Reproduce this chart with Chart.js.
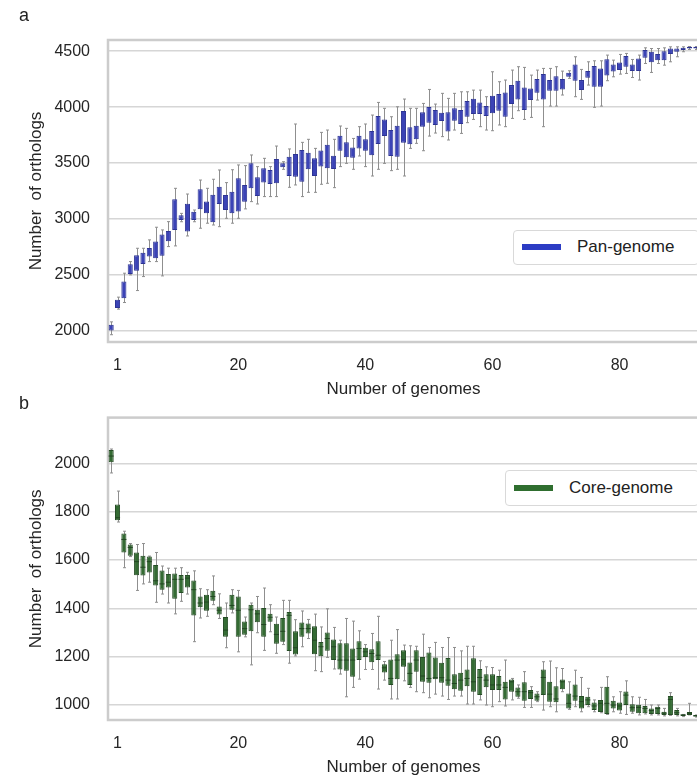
<!DOCTYPE html>
<html>
<head>
<meta charset="utf-8">
<script src="https://cdn.jsdelivr.net/npm/chart.js@4.4.1/dist/chart.umd.min.js"></script>
<style>
  html, body { margin: 0; padding: 0; background: #fff; overflow: hidden; }
  body { width: 697px; height: 776px; position: relative; font-family: "Liberation Sans", Arial, sans-serif; }
  canvas { position: absolute; left: 0; }
  #chartA { top: 0; }
  #chartB { top: 390px; }
  .panel { position: absolute; left: 19px; font-size: 18px; color: #222; }
  .legend { position: absolute; background: #fff; border: 1.5px solid #d9d9d9; border-radius: 4px; box-sizing: border-box; }
  .legend .patch { position: absolute; left: 8px; width: 39px; height: 6px; }
  .legend .txt { position: absolute; left: 63px; font-size: 17px; color: #222; white-space: nowrap; }
</style>
</head>
<body>
<canvas id="chartA" width="700" height="402"></canvas>
<canvas id="chartB" width="700" height="390"></canvas>
<div class="panel" style="top:5px">a</div>
<div class="panel" style="top:393px">b</div>
<div class="legend" style="left:513px; top:230px; width:186px; height:35px;">
  <div class="patch" style="top:13px; background:#2c3cc4;"></div>
  <div class="txt" style="top:6px;">Pan-genome</div>
</div>
<div class="legend" style="left:505px; top:470px; width:194px; height:36px;">
  <div class="patch" style="top:14px; background:#2f6e2f;"></div>
  <div class="txt" style="top:7px;">Core-genome</div>
</div>
<script>
// box index along the x axis (labels printed at 1, 20, 40, 60, 80)
const genomes = Array.from({ length: 93 }, (_, i) => i);
const xTicks = [1, 20, 40, 60, 80];
const panYTicks = [2000, 2500, 3000, 3500, 4000, 4500];
const coreYTicks = [1000, 1200, 1400, 1600, 1800, 2000];

// pan-genome boxes
const panLow = [1965,2194,2253,2500,2360,2485,2619,2619,2491,2753,
  2759,2975,2848,2975,2917,2962,2946,2931,3006,2962,
  3006,3090,3155,3134,3200,3200,3200,3444,3283,3304,
  3200,3238,3238,3310,3319,3280,3468,3497,3444,3563,
  3468,3384,3444,3497,3432,3444,3384,3631,3676,3610,
  3741,3768,3736,3706,3795,3765,3861,3890,3825,3795,
  3789,3840,3825,3899,3968,3890,3908,4063,3825,4009,
  4009,4108,4257,4093,4069,4197,3998,4009,4236,4271,
  4295,4301,4265,4242,4390,4310,4390,4375,4405,4450,
  4495,4515,4515];
const panQ1 = [2003,2203,2292,2509,2536,2598,2664,2649,2670,2801,
  2902,2991,2887,2991,3087,3052,2970,3134,3080,3051,
  3066,3155,3274,3206,3325,3313,3319,3462,3384,3378,
  3333,3444,3384,3468,3453,3447,3610,3551,3548,3631,
  3610,3569,3670,3741,3563,3557,3682,3667,3712,3825,
  3861,3840,3875,3783,3878,3849,3914,3938,3938,3920,
  3944,3968,3914,4027,4069,3974,4063,4128,4069,4146,
  4146,4158,4271,4236,4152,4262,4182,4182,4283,4319,
  4331,4361,4322,4322,4441,4402,4420,4420,4474,4495,
  4510,4524,4524];
const panQ3 = [2055,2277,2440,2596,2676,2699,2741,2798,2860,2893,
  3176,3033,3137,3065,3265,3156,3217,3289,3214,3244,
  3363,3304,3497,3372,3453,3438,3536,3497,3557,3581,
  3616,3593,3542,3611,3664,3566,3744,3685,3640,3744,
  3712,3786,3920,3890,3795,3834,3965,3819,3834,3953,
  4000,3974,3950,3953,3989,3974,4054,4075,4042,4009,
  4102,4117,4131,4197,4236,4176,4167,4251,4295,4242,
  4277,4251,4307,4381,4242,4322,4367,4346,4429,4381,
  4399,4456,4381,4435,4510,4495,4474,4500,4524,4524,
  4530,4539,4539];
const panHigh = [2080,2301,2515,2619,2738,2738,2813,2926,2902,2976,
  3274,3050,3223,3080,3348,3274,3355,3438,3325,3440,
  3483,3477,3572,3468,3542,3468,3652,3512,3626,3849,
  3685,3712,3631,3774,3795,3712,3831,3810,3720,3825,
  3849,3929,4042,3989,3914,4003,4072,3989,3989,4033,
  4158,4027,4123,4078,4123,4137,4137,4152,4152,4093,
  4316,4227,4242,4331,4361,4355,4286,4331,4346,4346,
  4361,4322,4325,4450,4337,4405,4414,4414,4465,4420,
  4471,4480,4426,4465,4530,4524,4524,4530,4539,4539,
  4539,4542,4542];

// core-genome boxes
const coreLow = [1960,1757,1568,1614,1474,1501,1508,1425,1459,1422,
  1377,1429,1459,1262,1360,1367,1415,1358,1237,1381,
  1220,1282,1166,1299,1226,1303,1214,1250,1173,1203,
  1241,1275,1142,1138,1197,1149,1128,1034,1073,1107,
  1147,1147,1066,1103,1025,1025,1100,1073,1055,1051,
  1030,1045,1037,1023,1037,1037,1004,1004,1021,1000,
  993,1014,996,1021,1028,990,990,1014,979,993,
  972,1055,982,993,972,993,972,968,961,972,
  966,961,966,959,963,959,959,955,957,955,
  952,959,950];
const coreQ1 = [2004,1764,1631,1618,1537,1536,1548,1494,1477,1486,
  1440,1463,1486,1370,1404,1390,1431,1374,1282,1394,
  1282,1291,1305,1342,1282,1344,1253,1262,1223,1209,
  1282,1296,1210,1202,1224,1186,1147,1142,1117,1186,
  1199,1177,1186,1135,1083,1107,1158,1083,1138,1096,
  1092,1107,1092,1080,1065,1059,1078,1055,1041,1073,
  1062,1062,1023,1055,1034,1018,1025,1018,1041,1014,
  1011,1065,986,1018,986,1000,979,971,963,986,
  977,1000,972,966,966,963,963,959,959,959,
  955,959,952];
const coreMed = [2030,1775,1685,1652,1593,1570,1593,1514,1501,1508,
  1520,1520,1525,1477,1422,1426,1449,1392,1310,1412,
  1392,1316,1394,1377,1333,1363,1292,1305,1371,1237,
  1316,1316,1268,1241,1275,1241,1186,1186,1186,1234,
  1220,1213,1206,1154,1110,1186,1188,1131,1186,1120,
  1110,1113,1113,1103,1089,1103,1110,1096,1114,1103,
  1083,1083,1073,1096,1055,1055,1051,1034,1114,1045,
  1025,1096,1007,1037,1014,1021,996,1007,1007,1000,
  996,1041,989,990,986,977,986,966,1023,968,
  959,966,955];
const coreQ3 = [2055,1829,1710,1664,1631,1618,1614,1579,1556,1542,
  1544,1538,1538,1515,1449,1456,1473,1408,1364,1456,
  1449,1346,1415,1394,1401,1378,1336,1360,1385,1305,
  1341,1337,1326,1261,1300,1271,1255,1255,1234,1264,
  1237,1231,1264,1169,1188,1210,1227,1176,1227,1199,
  1217,1197,1175,1195,1127,1133,1147,1193,1149,1127,
  1127,1120,1096,1106,1072,1094,1062,1048,1147,1096,
  1078,1106,1048,1085,1037,1034,1010,1021,1076,1018,
  1010,1056,1003,1001,996,986,993,972,1037,979,
  961,971,959];
const coreHigh = [2059,1885,1719,1668,1664,1668,1616,1631,1575,1566,
  1566,1568,1549,1555,1481,1477,1534,1460,1422,1477,
  1474,1364,1422,1449,1484,1415,1364,1433,1433,1353,
  1389,1354,1376,1323,1398,1321,1268,1358,1347,1307,
  1250,1296,1367,1180,1268,1312,1248,1245,1243,1293,
  1238,1259,1238,1279,1238,1224,1243,1243,1183,1158,
  1155,1144,1186,1110,1083,1138,1076,1055,1179,1182,
  1154,1151,1096,1144,1114,1069,1021,1073,1117,1034,
  1055,1100,1034,1032,1023,1000,1000,986,1051,986,
  961,1007,959];

const FONT = '"Liberation Sans", Arial, sans-serif';

// whiskers, caps, medians and the grey frame round the plot area
const boxExtras = {
  id: 'boxExtras',
  beforeDatasetsDraw(chart, args, opts) {
    const { ctx, chartArea: a, scales: { x, y } } = chart;
    ctx.save();
    ctx.strokeStyle = '#cccccc';
    ctx.lineWidth = 2.5;
    ctx.strokeRect(a.left, a.top, a.right - a.left, a.bottom - a.top);
    ctx.strokeStyle = opts.whiskerColor;
    ctx.lineWidth = 1;
    opts.low.forEach((lo, i) => {
      const px = Math.round(x.getPixelForValue(i)) + 0.5;
      const yl = y.getPixelForValue(lo);
      const yh = y.getPixelForValue(opts.high[i]);
      ctx.beginPath();
      ctx.moveTo(px, yl); ctx.lineTo(px, yh);
      ctx.moveTo(px - 1.5, yl); ctx.lineTo(px + 1.5, yl);
      ctx.moveTo(px - 1.5, yh); ctx.lineTo(px + 1.5, yh);
      ctx.stroke();
    });
    ctx.restore();
  },
  afterDatasetsDraw(chart, args, opts) {
    if (!opts.med) return;
    const { ctx, scales: { x, y } } = chart;
    const bar = chart.getDatasetMeta(0).data;
    ctx.save();
    ctx.strokeStyle = opts.medianColor;
    ctx.lineWidth = 1;
    opts.med.forEach((m, i) => {
      const w = bar[i].width / 2;
      const px = x.getPixelForValue(i);
      const py = y.getPixelForValue(m);
      ctx.beginPath();
      ctx.moveTo(px - w, py); ctx.lineTo(px + w, py);
      ctx.stroke();
    });
    ctx.restore();
  }
};

function makeChart(id, q1, q3, extras, fill, edge, yMin, yMax, yTicks, padTop) {
  return new Chart(document.getElementById(id).getContext('2d'), {
    type: 'bar',
    data: {
      labels: genomes,
      datasets: [{
        data: q1.map((v, i) => [v, q3[i]]),
        backgroundColor: fill,
        borderColor: edge,
        borderWidth: 1,
        borderSkipped: false,
        barPercentage: 0.8,
        categoryPercentage: 1
      }]
    },
    options: {
      responsive: false,
      animation: false,
      devicePixelRatio: 1,
      layout: { padding: { top: padTop, right: 1, left: 0, bottom: 0 } },
      plugins: {
        legend: { display: false },
        tooltip: { enabled: false },
        boxExtras: extras
      },
      scales: {
        x: {
          grid: { display: false, drawTicks: false },
          border: { display: false },
          ticks: {
            autoSkip: false,
            maxRotation: 0,
            padding: 14,
            color: '#262626',
            font: { family: FONT, size: 16 },
            callback: (v, i) => xTicks.includes(i) ? String(genomes[i]) : null
          },
          title: {
            display: true,
            text: 'Number of genomes',
            color: '#262626',
            font: { family: FONT, size: 17 },
            padding: { top: 0, bottom: 2 }
          },
          afterFit: (s) => { s.height = 60; }
        },
        y: {
          min: yMin,
          max: yMax,
          afterBuildTicks: (s) => { s.ticks = yTicks.map(v => ({ value: v })); },
          grid: { color: '#d6d6d6', lineWidth: 1.5, drawTicks: false },
          border: { display: false },
          ticks: {
            padding: 18,
            color: '#262626',
            font: { family: FONT, size: 16 },
            callback: (v) => String(v)
          },
          title: {
            display: true,
            text: 'Number  of orthologs',
            color: '#262626',
            font: { family: FONT, size: 17 },
            padding: { top: 26, bottom: 0 }
          },
          afterFit: (s) => { s.width = 108; }
        }
      }
    },
    plugins: [boxExtras]
  });
}

const panChart = makeChart('chartA', panQ1, panQ3,
  { low: panLow, high: panHigh, whiskerColor: '#8f8f8f' },
  '#3b43b6', '#2d3494', 1900, 4600, panYTicks, 40);

const coreChart = makeChart('chartB', coreQ1, coreQ3,
  { low: coreLow, high: coreHigh, med: coreMed, whiskerColor: '#8f8f8f', medianColor: '#234523' },
  '#346b33', '#264d26', 938, 2189, coreYTicks, 27);
</script>
</body>
</html>
